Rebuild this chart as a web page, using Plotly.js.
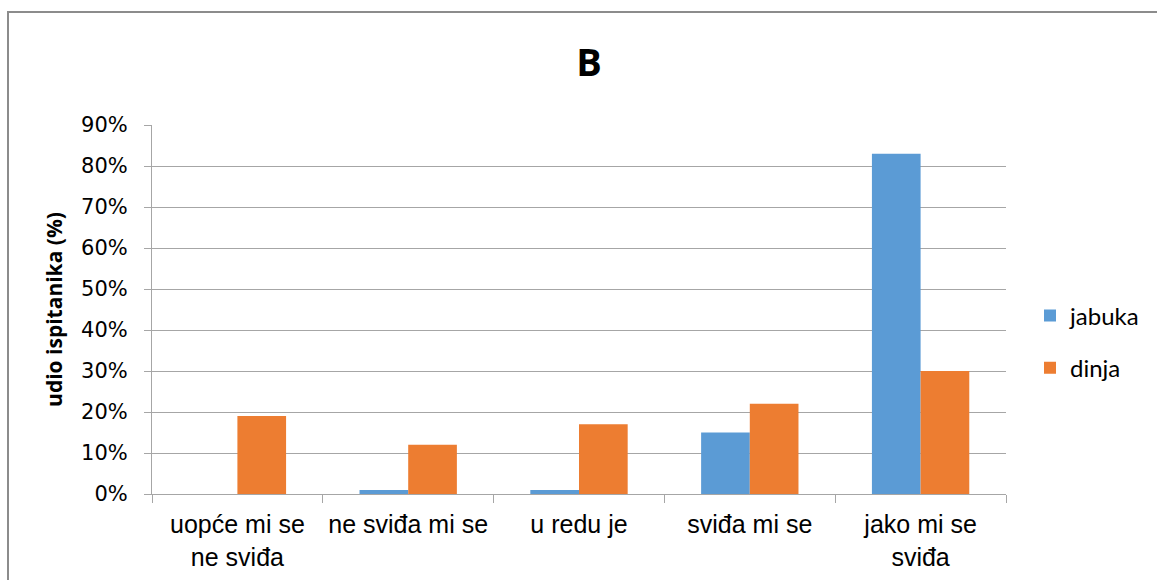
<!DOCTYPE html>
<html>
<head>
<meta charset="utf-8">
<script src="https://cdn.plot.ly/plotly-3.0.1.min.js"></script>
<style>html,body{margin:0;padding:0;background:#fff;}#chart{width:1157px;height:580px;}</style>
</head>
<body>
<div id="chart"></div>
<script>
const categories = ["uopće mi se<br>ne sviđa", "ne sviđa mi se", "u redu je", "sviđa mi se", "jako mi se<br>sviđa"];
const jabuka = [0, 0.01, 0.01, 0.15, 0.83];
const dinja = [0.19, 0.12, 0.17, 0.22, 0.30];
const yTickVals = [0, 0.1, 0.2, 0.3, 0.4, 0.5, 0.6, 0.7, 0.8, 0.9];
const yTickText = ["0%", "10%", "20%", "30%", "40%", "50%", "60%", "70%", "80%", "90%"];

const L = 152, R = 151, T = 125, B = 86, W = 1157, H = 580;
const pw = W - L - R, ph = H - T - B;
const px = v => (v - L) / pw;
const py = v => (H - B - v) / ph;

const traces = [
  {type: "bar", name: "jabuka", x: categories, y: jabuka, marker: {color: "#5B9BD5"}, legendgroup: "a", hoverinfo: "y"},
  {type: "bar", name: "dinja", x: categories, y: dinja, marker: {color: "#ED7D31"}, legendgroup: "b", hoverinfo: "y"}
];

const layout = {
  width: W, height: H,
  margin: {l: L, r: R, t: T, b: B},
  paper_bgcolor: "#ffffff", plot_bgcolor: "#ffffff",
  barmode: "group", bargap: 0.43, bargroupgap: 0,
  title: {text: "<b>B</b>", font: {family: "'Open Sans', sans-serif", size: 38, color: "#000", weight: "bold"},
          x: 589 / W, xref: "container", xanchor: "center", y: 1 - 63 / H, yref: "container", yanchor: "middle"},
  xaxis: {
    type: "category", showgrid: false, showline: true, linecolor: "#a6a6a6", linewidth: 1,
    ticks: "outside", tickson: "boundaries", ticklen: 8, tickcolor: "#a6a6a6",
    tickfont: {family: "'Liberation Sans', Arial, sans-serif", size: 25, color: "#000"},
    ticklabelstandoff: 8
  },
  yaxis: {
    range: [0, 0.9], tickvals: yTickVals, ticktext: yTickText,
    showgrid: true, gridcolor: "#a6a6a6", gridwidth: 1,
    showline: true, linecolor: "#a6a6a6", linewidth: 1, zeroline: false,
    ticks: "outside", ticklen: 7, tickcolor: "#a6a6a6",
    tickfont: {family: "'DejaVu Sans', sans-serif", size: 21, color: "#000"},
    ticklabelstandoff: 12,
    title: {text: "<b>udio ispitanika (%)</b>", font: {family: "'Open Sans', sans-serif", size: 21, color: "#000", weight: "bold"}, standoff: 12}
  },
  showlegend: true,
  legend: {
    x: px(1030), xanchor: "left", y: py(342), yanchor: "middle",
    font: {family: "Lato, 'Open Sans', sans-serif", size: 24, color: "#000"},
    traceorder: "grouped", tracegroupgap: 18, bgcolor: "rgba(0,0,0,0)"
  },
  shapes: [
    {type: "path", xref: "paper", yref: "paper",
     path: "M " + px(8) + " " + py(600) + " L " + px(8) + " " + py(12) + " L " + px(1170) + " " + py(12),
     line: {color: "#8c8c8c", width: 2}}
  ]
};

Plotly.newPlot("chart", traces, layout, {displayModeBar: false, staticPlot: true});
</script>
</body>
</html>
